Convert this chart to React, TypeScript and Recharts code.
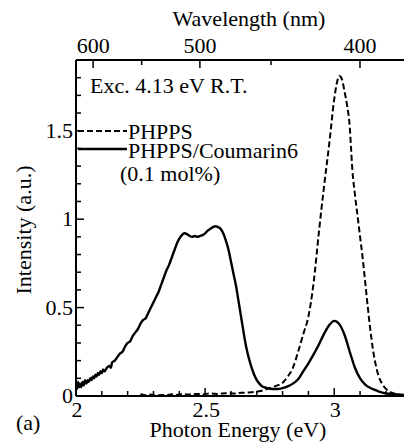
import React from "react";
import { LineChart, Line, XAxis, YAxis } from "recharts";

// photon energy (eV) vs intensity (a.u.)
const phppsSpectrum: [number, number][] = [
  [2.25, 0.012], [2.27, 0.004], [2.29, 0.008], [2.31, 0.002], [2.33, 0.006], [2.35, 0.004],
  [2.37, 0.01], [2.39, 0.006], [2.41, 0.012], [2.43, 0.008], [2.46, 0.012], [2.49, 0.01],
  [2.52, 0.014], [2.55, 0.012], [2.58, 0.016], [2.61, 0.014], [2.64, 0.018], [2.67, 0.02],
  [2.7, 0.025], [2.72, 0.03], [2.74, 0.04], [2.76, 0.05], [2.78, 0.06], [2.8, 0.075],
  [2.82, 0.11], [2.84, 0.16], [2.86, 0.25], [2.88, 0.35], [2.9, 0.45], [2.92, 0.64],
  [2.94, 0.92], [2.96, 1.18], [2.98, 1.42], [3.0, 1.68], [3.01, 1.77], [3.02, 1.81],
  [3.03, 1.79], [3.04, 1.72], [3.05, 1.64], [3.06, 1.52], [3.065, 1.4], [3.07, 1.28],
  [3.08, 1.14], [3.09, 1.02], [3.1, 0.9], [3.11, 0.78], [3.12, 0.64], [3.13, 0.5],
  [3.14, 0.37], [3.15, 0.26], [3.16, 0.18], [3.17, 0.12], [3.185, 0.07], [3.2, 0.04],
  [3.22, 0.02], [3.24, 0.01], [3.27, 0.005],
];

const coumarinSpectrum: [number, number][] = [
  [2.0, 0.07], [2.004, 0.04], [2.008, 0.08], [2.012, 0.05], [2.016, 0.07], [2.02, 0.05],
  [2.025, 0.08], [2.03, 0.06], [2.035, 0.09], [2.04, 0.07], [2.045, 0.09], [2.05, 0.08],
  [2.055, 0.1], [2.06, 0.09], [2.065, 0.11], [2.07, 0.1], [2.075, 0.12], [2.08, 0.11],
  [2.085, 0.13], [2.09, 0.12], [2.095, 0.14], [2.1, 0.13], [2.105, 0.15], [2.11, 0.14],
  [2.12, 0.16], [2.13, 0.17], [2.135, 0.16], [2.14, 0.19], [2.15, 0.2], [2.16, 0.22],
  [2.17, 0.24], [2.18, 0.25], [2.19, 0.28], [2.2, 0.3], [2.21, 0.31], [2.22, 0.34],
  [2.23, 0.36], [2.24, 0.38], [2.25, 0.41], [2.26, 0.43], [2.27, 0.44], [2.28, 0.47],
  [2.29, 0.5], [2.3, 0.53], [2.31, 0.56], [2.32, 0.59], [2.33, 0.63], [2.34, 0.67],
  [2.35, 0.71], [2.36, 0.74], [2.37, 0.78], [2.38, 0.82], [2.39, 0.86], [2.4, 0.89],
  [2.41, 0.91], [2.42, 0.92], [2.43, 0.915], [2.44, 0.905], [2.45, 0.9], [2.46, 0.905],
  [2.47, 0.9], [2.48, 0.905], [2.49, 0.91], [2.5, 0.92], [2.51, 0.935], [2.52, 0.945],
  [2.53, 0.955], [2.54, 0.96], [2.55, 0.955], [2.56, 0.945], [2.57, 0.92], [2.58, 0.88],
  [2.59, 0.83], [2.6, 0.76], [2.61, 0.69], [2.62, 0.62], [2.63, 0.53], [2.64, 0.44],
  [2.65, 0.35], [2.66, 0.27], [2.67, 0.21], [2.68, 0.16], [2.69, 0.12], [2.7, 0.09],
  [2.71, 0.07], [2.72, 0.055], [2.74, 0.045], [2.76, 0.04], [2.78, 0.04], [2.8, 0.045],
  [2.82, 0.055], [2.84, 0.07], [2.86, 0.095], [2.88, 0.14], [2.9, 0.185], [2.92, 0.235],
  [2.94, 0.29], [2.96, 0.35], [2.98, 0.4], [3.0, 0.425], [3.01, 0.42], [3.02, 0.405],
  [3.04, 0.345], [3.06, 0.25], [3.08, 0.16], [3.1, 0.1], [3.12, 0.065], [3.14, 0.045],
  [3.16, 0.033], [3.18, 0.022], [3.2, 0.015], [3.23, 0.01], [3.27, 0.006],
];

const energyTicks = [2, 2.1, 2.2, 2.3, 2.4, 2.5, 2.6, 2.7, 2.8, 2.9, 3, 3.1, 3.2];
const energyLabels = [2, 2.5, 3];
const wavelengthTicks = [600, 550, 500, 450, 400];
const wavelengthLabels = [600, 500, 400];
const intensityTicks = [0, 0.1, 0.2, 0.3, 0.4, 0.5, 0.6, 0.7, 0.8, 0.9, 1, 1.1, 1.2, 1.3, 1.4, 1.5, 1.6, 1.7, 1.8];
const intensityLabels = [0, 0.5, 1, 1.5];

const HC = 1239.84; // eV*nm
const E_DOMAIN = [2, 3.27];
const FONT = "'Liberation Serif', 'Times New Roman', serif";

const toRows = (s: [number, number][]) => s.map(([e, i]) => ({ e, i }));
const phppsData = toRows(phppsSpectrum);
const coumarinData = toRows(coumarinSpectrum);

const has = (list: number[], v: number) => list.some((l) => Math.abs(l - v) < 1e-6);

// ticks point inward, like the original plot
const BottomTick = ({ x, y, payload }: any) => {
  const major = has(energyLabels, payload.value);
  return (
    <g>
      <line x1={x} y1={y} x2={x} y2={y - (major ? 8 : 5)} stroke="#000" strokeWidth={1.5} />
      {major && (
        <text x={x + 1} y={y + 21} textAnchor="middle" fontSize={22} fontFamily={FONT} fill="#000">
          {String(payload.value)}
        </text>
      )}
    </g>
  );
};

const TopTick = ({ x, y, payload }: any) => {
  const nm = Math.round(HC / payload.value);
  const major = has(wavelengthLabels, nm);
  return (
    <g>
      <line x1={x} y1={y} x2={x} y2={y + (major ? 8 : 5)} stroke="#000" strokeWidth={1.5} />
      {major && (
        <text x={x} y={y - 7} textAnchor="middle" fontSize={22} fontFamily={FONT} fill="#000">
          {nm}
        </text>
      )}
    </g>
  );
};

const LeftTick = ({ x, y, payload }: any) => {
  const major = has(intensityLabels, payload.value);
  return (
    <g>
      <line x1={x} y1={y} x2={x + (major ? 8 : 5)} y2={y} stroke="#000" strokeWidth={1.5} />
      {major && (
        <text x={x - 3} y={y + 7} textAnchor="end" fontSize={22} fontFamily={FONT} fill="#000">
          {String(payload.value)}
        </text>
      )}
    </g>
  );
};

const axisLine = { stroke: "#000", strokeWidth: 2 };

export default function App() {
  return (
    <div style={{ position: "absolute", left: 0, top: 0, width: 404, height: 443, background: "#fff", overflow: "hidden" }}>
      <LineChart width={404} height={443} margin={{ top: 0, right: 0, bottom: 0, left: 0 }}>
        <XAxis
          xAxisId="bottom"
          orientation="bottom"
          type="number"
          dataKey="e"
          domain={E_DOMAIN}
          allowDataOverflow
          ticks={energyTicks}
          interval={0}
          tick={<BottomTick />}
          tickLine={false}
          tickSize={0}
          tickMargin={0}
          axisLine={axisLine}
          height={47}
        />
        {/* wavelength axis: same energy scale, ticks placed at hc/λ */}
        <XAxis
          xAxisId="top"
          orientation="top"
          type="number"
          dataKey="e"
          domain={E_DOMAIN}
          allowDataOverflow
          ticks={wavelengthTicks.map((nm) => HC / nm)}
          interval={0}
          tick={<TopTick />}
          tickLine={false}
          tickSize={0}
          tickMargin={0}
          axisLine={axisLine}
          height={60}
        />
        <YAxis
          yAxisId="i"
          type="number"
          domain={[0, 1.9]}
          allowDataOverflow
          ticks={intensityTicks}
          interval={0}
          tick={<LeftTick />}
          tickLine={false}
          tickSize={0}
          tickMargin={0}
          axisLine={axisLine}
          width={76}
        />
        <Line
          xAxisId="bottom"
          yAxisId="i"
          data={phppsData}
          dataKey="i"
          type="monotone"
          stroke="#000"
          strokeWidth={2}
          strokeDasharray="6 3"
          dot={false}
          isAnimationActive={false}
        />
        <Line
          xAxisId="top"
          yAxisId="i"
          data={coumarinData}
          dataKey="i"
          type="monotone"
          stroke="#000"
          strokeWidth={2.4}
          dot={false}
          isAnimationActive={false}
        />
      </LineChart>

      {/* titles, annotation and legend */}
      <svg width={404} height={443} style={{ position: "absolute", left: 0, top: 0, pointerEvents: "none" }}>
        <g fontFamily={FONT} fontSize={22} fill="#000">
          <text x={249} y={26} textAnchor="middle">Wavelength (nm)</text>
          <text x={238} y={437} textAnchor="middle">Photon Energy (eV)</text>
          <text x={16} y={430}>(a)</text>
          <text x={31} y={230} textAnchor="middle" transform="rotate(-90 31 230)">Intensity (a.u.)</text>
          <text x={90} y={93}>Exc. 4.13 eV R.T.</text>
          <text x={128} y={139}>PHPPS</text>
          <text x={128} y={158}>PHPPS/Coumarin6</text>
          <text x={120} y={181}>(0.1 mol%)</text>
        </g>
        <line x1={78} y1={131} x2={127} y2={131} stroke="#000" strokeWidth={2} strokeDasharray="6 3" />
        <line x1={78} y1={149} x2={127} y2={149} stroke="#000" strokeWidth={2.4} />
      </svg>
    </div>
  );
}
